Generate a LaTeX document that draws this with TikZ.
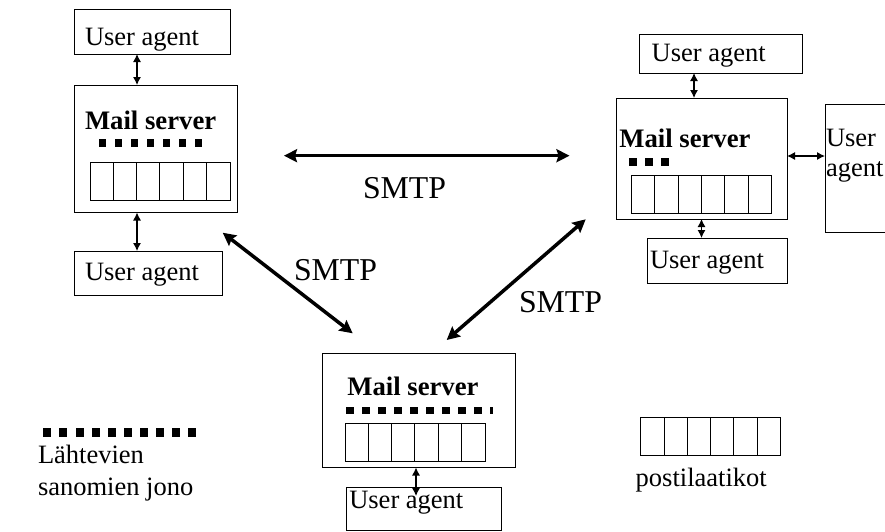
\documentclass[tikz,border=0pt]{standalone}
\usepackage{fontspec}
\setmainfont{Liberation Serif}
\usetikzlibrary{arrows.meta}
\tikzset{
  boxn/.style={draw=black,line width=1pt,inner sep=0pt,outer sep=0pt,fill=none},
  lbl/.style={anchor=base west,inner sep=0pt,outer sep=0pt,font=\fontsize{26.5}{30}\selectfont,text=black},
  boldlbl/.style={lbl,font=\fontsize{26.7}{30}\selectfont\bfseries},
  smtplbl/.style={lbl,font=\fontsize{31.8}{36}\selectfont},
  thinarrow/.style={line width=1.1pt,{Latex[length=8pt,width=8pt]}-{Latex[length=8pt,width=8pt]}},
  thickarrow/.style={line width=3.5pt,{Stealth[length=13pt,width=13pt,inset=2pt]}-{Stealth[length=13pt,width=13pt,inset=2pt]}},
  divider/.style={line width=1pt,draw=black},
}
\newcommand\bx[5]{\node[boxn,minimum width={(#4-#2)*1pt},minimum height={(#5-#3)*1pt}] (#1) at ({(#2+#4)/2},{(#3+#5)/2}) {};}
% mailbox row: name, left, top
\newcommand\mailrow[3]{%
  \bx{#1}{#2}{#3}{#2+140}{#3+38}
  \foreach \k in {1,...,5} {\draw[divider] ({#2+23.3*\k},#3) -- ({#2+23.3*\k},#3+38);}
}
% queue: left, top, count, pitch, w, h
\newcommand\queuerow[6]{%
  \foreach \k in {1,...,#3} {\fill[black] ({#1+#4*(\k-1)},#2) rectangle ({#1+#4*(\k-1)+#5},#2+#6);}
}
\begin{document}
\begin{tikzpicture}[x=1pt,y=-1pt]
\clip (0,0) rectangle (885,531);
% --- left group
\bx{uaA}{74.5}{9}{230}{54}
\node[lbl] (tA) at (85,45.7) {User agent};
\bx{srvA}{74.5}{85}{237.5}{212.5}
\node[boldlbl] (mA) at (85,129) {Mail server};
\queuerow{98.5}{139}{7}{16.1}{7}{8}
\mailrow{mbA}{90}{162}
\bx{uaB}{74.5}{251}{222.5}{295}
\node[lbl] (tB) at (85,280.7) {User agent};
\coordinate (xA) at (137,0);
\draw[thinarrow] (uaA.south -| xA) -- (srvA.north -| xA);
\draw[thinarrow] (srvA.south -| xA) -- (uaB.north -| xA);
% --- right group
\bx{uaC}{639.5}{34.5}{802}{73}
\node[lbl] (tC) at (651.7,61.7) {User agent};
\bx{srvC}{616.5}{98}{787}{219}
\node[boldlbl] (mC) at (619.3,147.7) {Mail server};
\queuerow{629}{158}{3}{16}{7.5}{8}
\mailrow{mbC}{631.5}{175}
\bx{uaD}{647}{238}{787}{283}
\node[lbl] (tD) at (650,268) {User agent};
\bx{uaE}{825}{104}{900}{232}
\node[lbl] (tE) at (826,146.7) {User};
\node[lbl] (tF) at (826,176.7) {agent};
\coordinate (xC) at (694,0);
\coordinate (xD) at (701.5,0);
\coordinate (yE) at (0,156);
\draw[thinarrow] (uaC.south -| xC) -- (srvC.north -| xC);
\draw[thinarrow] (srvC.south -| xD) -- (uaD.north -| xD);
\draw[thinarrow] (srvC.east |- yE) -- (uaE.west |- yE);
% --- bottom group
\bx{srvF}{322.5}{353}{515.7}{467.5}
\node[boldlbl] (mF) at (347.3,395.7) {Mail server};
\queuerow{345.7}{406.7}{9}{16}{8}{7.5}
\fill[black] (489.7,406.7) rectangle (492.7,414.2);
\mailrow{mbF}{345}{423}
\bx{uaG}{346}{487}{501}{530}
\node[lbl] (tG) at (349.3,508.3) {User agent};
\coordinate (xF) at (416,0);
\coordinate (endF) at (416,496);
\draw[thinarrow] (srvF.south -| xF) -- (endF);
% --- SMTP arrows
\coordinate (ab1) at (284,155.7);
\coordinate (ab2) at (569.5,155.7);
\coordinate (ac1) at (222.7,232.7);
\coordinate (ac2) at (352.7,333.3);
\coordinate (ad1) at (585.7,219.3);
\coordinate (ad2) at (446.7,340);
\draw[thickarrow] (ab1) -- (ab2);
\draw[thickarrow] (ac1) -- (ac2);
\draw[thickarrow] (ad1) -- (ad2);
\node[smtplbl] (s1) at (363,198) {SMTP};
\node[smtplbl] (s2) at (294,280.7) {SMTP};
\node[smtplbl] (s3) at (519,312) {SMTP};
% --- legend
\queuerow{43.3}{428.3}{10}{16.1}{8}{8.5}
\node[lbl] (l1) at (38,463) {Lähtevien};
\node[lbl] (l2) at (38,495) {sanomien jono};
\mailrow{mbL}{640.7}{417}
\node[lbl] (l3) at (635.7,486) {postilaatikot};
\end{tikzpicture}
\end{document}
